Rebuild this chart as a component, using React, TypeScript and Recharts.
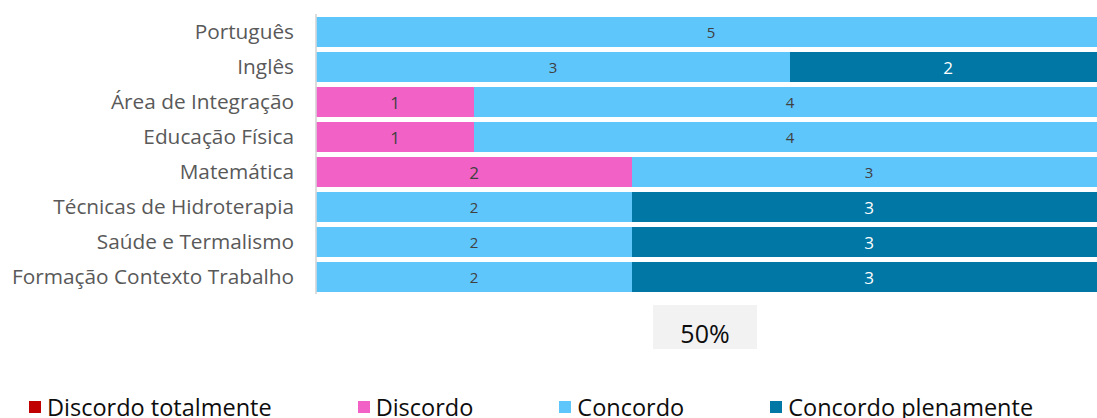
import { BarChart, Bar, XAxis, YAxis, CartesianGrid, LabelList, Legend } from 'recharts';

const subjects = [
  'Português',
  'Inglês',
  'Área de Integração',
  'Educação Física',
  'Matemática',
  'Técnicas de Hidroterapia',
  'Saúde e Termalismo',
  'Formação Contexto Trabalho',
];

const discordoTotalmente = [0, 0, 0, 0, 0, 0, 0, 0];
const discordo = [0, 0, 1, 1, 2, 0, 0, 0];
const concordo = [5, 3, 4, 4, 3, 2, 2, 2];
const concordoPlenamente = [0, 2, 0, 0, 0, 3, 3, 3];

const gridTicks = [0, 0.2, 0.4, 0.6, 0.8, 1];
const axisLabel = '50%';

const series = [
  { key: 'discordoTotalmente', name: 'Discordo totalmente', color: '#C00000', text: '#ffffff', size: 17 },
  { key: 'discordo', name: 'Discordo', color: '#F262C6', text: '#404040', size: 17 },
  { key: 'concordo', name: 'Concordo', color: '#5FC6FC', text: '#404040', size: 15 },
  { key: 'concordoPlenamente', name: 'Concordo plenamente', color: '#0077A4', text: '#ffffff', size: 17 },
];

const data = subjects.map((subject, i) => ({
  subject,
  discordoTotalmente: discordoTotalmente[i],
  discordo: discordo[i],
  concordo: concordo[i],
  concordoPlenamente: concordoPlenamente[i],
}));

const FONT = '"Open Sans", sans-serif';

// etiqueta dentro da barra, escondida quando o valor é zero
const makeLabel = (fill: string, size: number) => (props: any) => {
  const { x, y, width, height, value } = props;
  if (!value) return null;
  return (
    <text
      x={x + width / 2}
      y={y + height / 2}
      fill={fill}
      fontSize={size}
      fontFamily={FONT}
      textAnchor="middle"
      dominantBaseline="central"
    >
      {value}
    </text>
  );
};

const AxisBox = (props: any) => {
  const { x, y, width } = props.viewBox;
  const cx = x + width / 2 - 6;
  return (
    <g>
      <rect x={cx - 52} y={y + 11} width={104} height={44} fill="#F2F2F2" />
      <text x={cx} y={y + 49} textAnchor="middle" fontSize={25} fontFamily={FONT} fill="#0D0D0D">
        {axisLabel}
      </text>
    </g>
  );
};

const LegendContent = () => (
  <div style={{ display: 'flex', gap: 86, paddingLeft: 29, fontFamily: FONT, fontSize: 23.5, color: '#0D0D0D' }}>
    {series.map((s) => (
      <div key={s.key} style={{ display: 'flex', alignItems: 'center', whiteSpace: 'nowrap' }}>
        <span style={{ width: 12, height: 12, background: s.color, marginRight: 6, display: 'inline-block' }} />
        <span>{s.name}</span>
      </div>
    ))}
  </div>
);

export default function App() {
  return (
    <div style={{ position: 'absolute', left: 0, top: 0, width: 1097, height: 418, overflow: 'hidden', background: '#fff' }}>
      <BarChart
        width={1120}
        height={418}
        data={data}
        layout="vertical"
        stackOffset="expand"
        barCategoryGap={5}
        margin={{ top: 14, right: 14, bottom: 64, left: 0 }}
      >
        <CartesianGrid horizontal={false} stroke="#D9D9D9" />
        <XAxis
          type="number"
          domain={[0, 1]}
          ticks={gridTicks}
          tick={false}
          axisLine={false}
          tickLine={false}
          height={60}
          label={<AxisBox />}
        />
        <YAxis
          type="category"
          dataKey="subject"
          width={316}
          axisLine={{ stroke: '#D9D9D9', strokeWidth: 1.5 }}
          tickLine={false}
          tickSize={0}
          tickMargin={22}
          tick={{ fontSize: 20.8, fill: '#595959', fontFamily: FONT }}
        />
        {series.map((s) => (
          <Bar key={s.key} dataKey={s.key} name={s.name} stackId="a" fill={s.color} barSize={30} isAnimationActive={false}>
            <LabelList dataKey={s.key} content={makeLabel(s.text, s.size)} />
          </Bar>
        ))}
        <Legend
          layout="horizontal"
          verticalAlign="middle"
          align="center"
          wrapperStyle={{ left: 0, top: 391, width: 1097, height: 30 }}
          content={<LegendContent />}
        />
      </BarChart>
    </div>
  );
}
